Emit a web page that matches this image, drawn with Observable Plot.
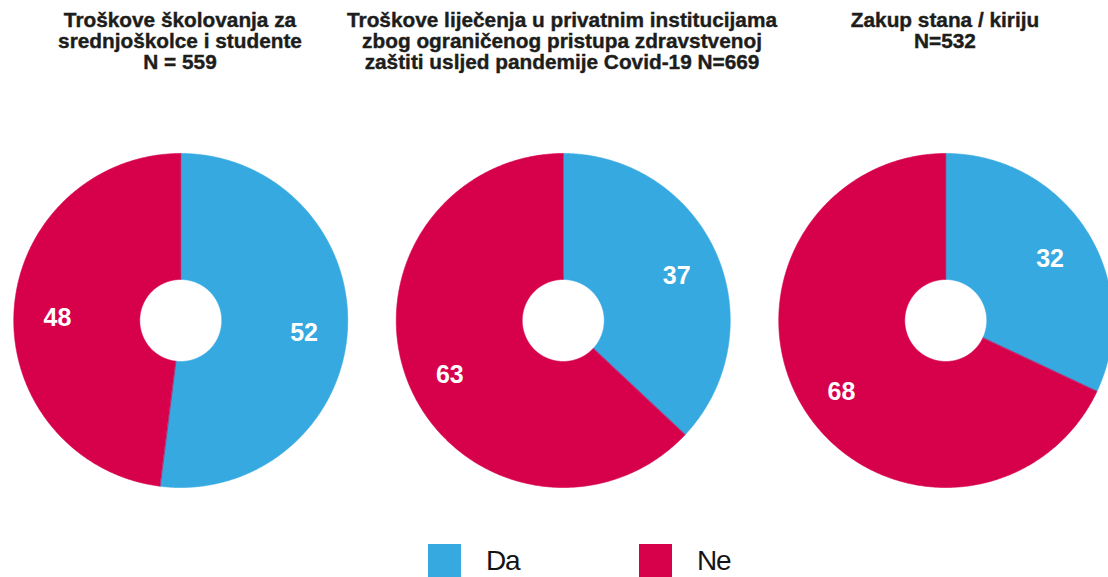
<!DOCTYPE html>
<html>
<head>
<meta charset="utf-8">
<script src="https://cdn.jsdelivr.net/npm/d3@7"></script>
<script src="https://cdn.jsdelivr.net/npm/@observablehq/plot@0.6"></script>
<style>
  html, body { margin: 0; padding: 0; background: #fff; }
  body { width: 1108px; height: 577px; position: relative; overflow: hidden; font-family: "Liberation Sans", Arial, sans-serif; }
  .title { position: absolute; top: 9px; width: 460px; text-align: center; font-weight: bold; font-size: 20.8px; line-height: 21px; color: #1d1d1b; -webkit-text-stroke: 0.4px #1d1d1b; }
  #chart { position: absolute; left: -11px; top: 100px; width: 1148px; height: 440px; }
  #chart svg { max-width: none !important; }
  .sw { position: absolute; top: 544px; width: 33px; height: 33px; }
  .lab { position: absolute; top: 541px; font-family: "Liberation Sans Narrow", "Liberation Sans", sans-serif; font-size: 28px; line-height: 40px; color: #151515; letter-spacing: -1.2px; }
</style>
</head>
<body>
<div id="titles"></div>
<div id="chart"></div>
<div id="legend"></div>
<script>
// ---- data ----
const questionKeys = ["skolovanje", "lijecenje", "stan"];
const titleLines = [
  ["Troškove školovanja za", "srednjoškolce i studente", "N = 559"],
  ["Troškove liječenja u privatnim institucijama", "zbog ograničenog pristupa zdravstvenoj", "zaštiti usljed pandemije Covid-19 N=669"],
  ["Zakup stana / kiriju", "N=532"]
];
const answers = ["Da", "Ne"];
const daValues = [52, 37, 32];
const neValues = [48, 63, 68];
const colors = ["#36a9e1", "#d6004b"];

// ---- layout / styling ----
const facetW = 382.5, radiusPx = 167, holePx = 41, svgH = 440;
const innerR = holePx / radiusPx;
const labelR = 0.74;
const titleCenters = [180, 562, 945];

// titles
const tdiv = document.getElementById("titles");
titleLines.forEach((lines, i) => {
  const d = document.createElement("div");
  d.className = "title";
  d.style.left = (titleCenters[i] - 230) + "px";
  d.innerHTML = lines.join("<br>");
  tdiv.appendChild(d);
});

// build slice polygons
const polys = [];
const labels = [];
questionKeys.forEach((q, i) => {
  const vals = [daValues[i], neValues[i]];
  const total = d3.sum(vals);
  let start = 0;
  vals.forEach((v, j) => {
    const a0 = start / total * 2 * Math.PI;
    const a1 = (start + v) / total * 2 * Math.PI;
    const n = Math.max(8, Math.ceil((a1 - a0) / (Math.PI / 360)));
    const key = q + "-" + answers[j];
    for (let k = 0; k <= n; k++) {
      const a = a0 + (a1 - a0) * k / n;
      polys.push({q, answer: answers[j], key, x: Math.sin(a), y: Math.cos(a)});
    }
    for (let k = n; k >= 0; k--) {
      const a = a0 + (a1 - a0) * k / n;
      polys.push({q, answer: answers[j], key, x: innerR * Math.sin(a), y: innerR * Math.cos(a)});
    }
    const am = (a0 + a1) / 2;
    labels.push({q, text: String(v), x: labelR * Math.sin(am), y: labelR * Math.cos(am)});
    start += v;
  });
});

const hx = facetW / 2 / radiusPx;
const hy = svgH / 2 / radiusPx;

const chart = Plot.plot({
  width: facetW * 3,
  height: svgH,
  margin: 0,
  style: {fontFamily: "Liberation Sans, Arial, sans-serif", background: "transparent", maxWidth: "none"},
  fx: {domain: questionKeys, axis: null, padding: 0, round: false},
  x: {domain: [-hx, hx], axis: null},
  y: {domain: [-hy, hy], axis: null},
  marks: answers.map((a, j) =>
    Plot.line(polys.filter(d => d.answer === a), {
      fx: "q", x: "x", y: "y", z: "key",
      fill: colors[j], stroke: colors[j], strokeWidth: 0.6,
      curve: "linear-closed"
    })
  ).concat([
    Plot.text(labels, {
      fx: "q", x: "x", y: "y", text: "text", dy: 5,
      fill: "white", fontSize: 25, fontWeight: "bold"
    })
  ])
});
document.getElementById("chart").appendChild(chart);

// legend
const leg = document.getElementById("legend");
const legX = [428, 639];
answers.forEach((a, j) => {
  const s = document.createElement("div");
  s.className = "sw";
  s.style.left = legX[j] + "px";
  s.style.background = colors[j];
  leg.appendChild(s);
  const t = document.createElement("div");
  t.className = "lab";
  t.style.left = (legX[j] + 58) + "px";
  t.textContent = a;
  leg.appendChild(t);
});
</script>
</body>
</html>
